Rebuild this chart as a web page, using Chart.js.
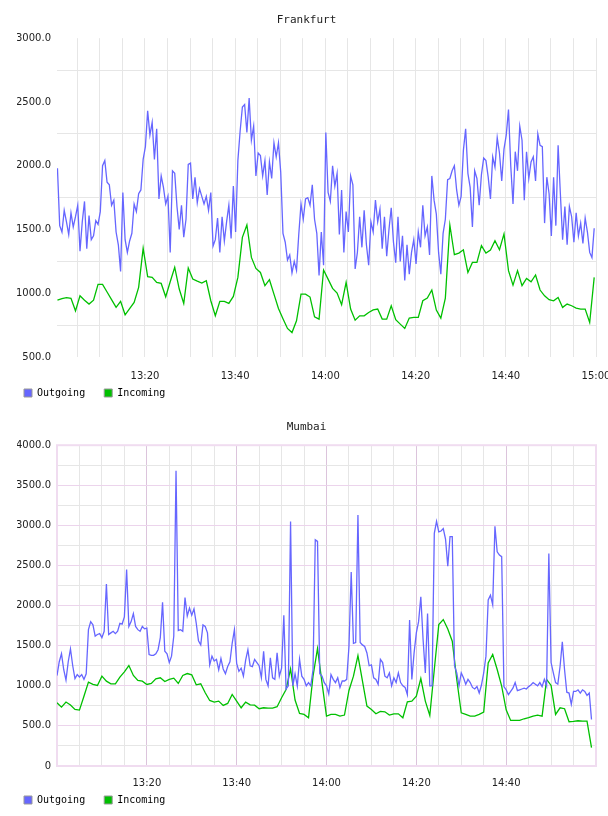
<!DOCTYPE html>
<html>
<head>
<meta charset="utf-8">
<script src="https://cdn.jsdelivr.net/npm/chart.js@4.4.1/dist/chart.umd.min.js"></script>
<style>
  html, body { margin: 0; padding: 0; background: #fff; }
  #wrap { position: relative; width: 608px; height: 816px; overflow: hidden; }
  canvas { position: absolute; left: 0; }
  #frankfurt { top: 0; }
  #mumbai { top: 404px; }
</style>
</head>
<body>
<div id="wrap">
  <canvas id="frankfurt" width="608" height="410"></canvas>
  <canvas id="mumbai" width="608" height="412"></canvas>
</div>
<script>
'use strict';

// minutes after 13:00; outgoing sampled every 30 s, incoming every minute
const OUT_STEP = 0.5;
const IN_STEP = 1;
const FRA_START = 0.6;
const MUM_START = 0;

const FRA_OUTGOING = [
  1980, 1530, 1480, 1650, 1560, 1460, 1630, 1520, 1600, 1690, 1330, 1560, 1720, 1350, 1610, 1420, 1450, 1570, 1540,
  1640, 2000, 2040, 1870, 1850, 1690, 1730, 1480, 1380, 1170,
  1790, 1420, 1320, 1410, 1470, 1700, 1640, 1780,
  1810, 2050, 2150, 2430, 2240, 2340, 2050, 2290, 1740, 1920, 1830, 1700, 1760, 1320,
  1960, 1940, 1680, 1500, 1690, 1440, 1580, 2010, 2020, 1740, 1910, 1710, 1820, 1760, 1700, 1760, 1650, 1790, 1370, 1420,
  1590, 1320, 1600, 1410, 1560, 1690, 1430, 1840, 1480, 2040,
  2270, 2460, 2480, 2260, 2530, 2200, 2310, 1920, 2100, 2080, 1920, 2040, 1770, 2030, 1900, 2180, 2070, 2180, 1950, 1470,
  1400, 1260, 1300, 1160, 1250, 1180, 1460, 1700, 1580, 1740, 1750, 1690,
  1850, 1580, 1470, 1140, 1480, 1220, 2260, 1790, 1720, 2000,
  1840, 1940, 1460, 1810, 1320, 1640, 1480, 1920, 1850, 1190,
  1320, 1600, 1360, 1650, 1380, 1220, 1560, 1480, 1730, 1560,
  1660, 1350, 1600, 1290, 1500, 1670, 1400, 1240, 1600, 1250,
  1450, 1100, 1380, 1150, 1320, 1420, 1230, 1480, 1360, 1690,
  1450, 1520, 1300, 1920, 1730, 1620, 1320, 1150, 1470, 1580,
  1890, 1900, 1960, 2000, 1810, 1690, 1760, 2120, 2290, 1940,
  1830, 1520, 1960, 1900, 1690, 1930, 2060, 2040, 1910, 1740,
  2070, 1990, 2220, 2100, 1880, 2130, 2240, 2440, 2000, 1700,
  2110, 1960, 2310, 2200, 1730, 2110, 1900, 2030, 2070, 1880,
  2250, 2160, 2150, 1550, 1910, 1780, 1450, 1910, 1530, 2160,
  1780, 1420, 1680, 1380, 1680, 1600, 1400, 1630, 1450, 1550,
  1390, 1590, 1480, 1320, 1280, 1510
];

const FRA_INCOMING = [
  946, 958, 965, 960, 862, 980, 945, 915, 946, 1069,
  1069, 1010, 950, 889, 936, 831, 880, 928, 1046, 1352,
  1130, 1124, 1085, 1077, 972, 1090, 1203, 1033, 920, 1198,
  1111, 1095, 1080, 1098, 941, 823, 936, 936, 920, 975,
  1124, 1438, 1535, 1281, 1195, 1163, 1059, 1106, 993, 880,
  800, 724, 692, 784, 993, 993, 970, 815, 797, 1182,
  1111, 1038, 1001, 910, 1085, 876, 789, 823, 823, 849,
  870, 876, 797, 797, 902, 792, 758, 724, 805, 810,
  810, 941, 962, 1025, 868, 805, 962, 1535, 1302, 1315,
  1341, 1163, 1242, 1242, 1373, 1315, 1339, 1412, 1341, 1465,
  1177, 1064, 1177, 1059, 1116, 1090, 1143, 1025, 980, 949,
  941, 967, 889, 915, 902, 884, 876, 876, 771, 1124
];

const MUM_OUTGOING = [
  1128, 1300, 1400, 1200, 1070, 1300, 1460, 1250, 1090, 1140,
  1110, 1140, 1080, 1150, 1700, 1800, 1760, 1620, 1640, 1650,
  1600, 1680, 2270, 1640, 1660, 1680, 1650, 1680, 1780, 1770,
  1860, 2450, 1740, 1800, 1900, 1740, 1700, 1680, 1740, 1710,
  1720, 1390, 1380, 1380, 1400, 1450, 1600, 2040, 1430, 1400,
  1290, 1370, 1620, 3680, 1690, 1700, 1680, 2100, 1870, 1970,
  1880, 1960, 1780, 1560, 1510, 1760, 1740, 1660, 1260, 1370,
  1310, 1330, 1200, 1340, 1210, 1150, 1240, 1300, 1530, 1700,
  1280, 1180, 1220, 1120, 1320, 1450, 1250, 1240, 1330, 1290,
  1250, 1100, 1430, 1080, 1000, 1350, 1100, 1080, 1410, 1120,
  1220, 1880, 960, 1000, 3050,
  1000, 1150, 996, 1330, 1120, 1080, 1000, 1040, 1000, 1200,
  2820, 2800, 1150, 1120, 1040, 1000, 900, 1140, 1080, 1040,
  1100, 980, 1060, 1060, 1080, 1490, 2420, 1530, 1540, 3130,
  1540, 1510, 1490, 1410, 1250, 1260, 1100, 1080, 1020, 1330,
  1290, 1120, 1100, 1160, 1000, 1100, 1040, 1160, 1040, 1000,
  980, 890, 1820, 1080, 1410, 1660, 1800, 2110, 1580, 1160,
  1900, 1000, 1000, 2900, 3050, 2920, 2930, 2960, 2830, 2490,
  2860, 2860, 1250, 1160, 1000, 1160, 1100, 1020, 1080, 1040,
  980, 960, 990, 910, 1010, 1160, 1370, 2070, 2130, 2010,
  2990, 2670, 2630, 2610, 990, 950, 890, 930, 970, 1040,
  940, 950, 960, 970, 960, 990, 1010, 1040, 1020, 1000,
  1040, 990, 1080, 1000, 2650, 1290, 1160, 1040, 1020, 1240,
  1550, 1200, 920, 910, 770, 930, 930, 950, 910, 950,
  930, 880, 910, 580
];

const MUM_INCOMING = [
  788, 734, 797, 760, 705, 697, 870, 1046, 1017, 1004,
  1120, 1058, 1025, 1025, 1108, 1174, 1253, 1129, 1066, 1058,
  1017, 1029, 1087, 1100, 1054, 1079, 1095, 1029, 1129, 1153,
  1137, 1012, 1025, 913, 817, 797, 809, 755, 780, 892,
  809, 726, 797, 763, 759, 714, 726, 722, 722, 739,
  851, 954, 1212, 822, 655, 643, 600, 1120, 1465, 1037,
  622, 643, 643, 622, 635, 942, 1120, 1377, 1060, 747,
  705, 651, 680, 676, 635, 651, 651, 602, 801, 809,
  871, 1091, 809, 631, 1203, 1763, 1826, 1709, 1556, 1079,
  664, 643, 622, 622, 643, 672, 1286, 1390, 1203, 996,
  700, 568, 568, 568, 589, 602, 622, 635, 622, 1079,
  1004, 643, 726, 714, 552, 556, 564, 560, 560, 228
];

// grid every 5 minutes, labels every 20
const FRA_X_TICKS = [5, 10, 15, 20, 25, 30, 35, 40, 45, 50, 55, 60, 65, 70, 75, 80, 85, 90, 95, 100, 105, 110, 115, 120];
const MUM_X_TICKS = [5, 10, 15, 20, 25, 30, 35, 40, 45, 50, 55, 60, 65, 70, 75, 80, 85, 90, 95, 100, 105, 110, 115];
const FRA_Y_TICKS = [500, 750, 1000, 1250, 1500, 1750, 2000, 2250, 2500, 2750, 3000];
const MUM_Y_TICKS = [0, 250, 500, 750, 1000, 1250, 1500, 1750, 2000, 2250, 2500, 2750, 3000, 3250, 3500, 3750, 4000];
const SERIES = ['Outgoing', 'Incoming'];

const BLUE = '#6666ff';
const GREEN = '#00c000';

Chart.defaults.font.family = 'DejaVu Sans';
Chart.defaults.font.size = 10;
Chart.defaults.color = '#222';

function toPoints(values, start, step) {
  return values.map((v, i) => ({ x: start + i * step, y: v }));
}

function clock(min) {
  const h = 13 + Math.floor(min / 60);
  const m = min % 60;
  return h + ':' + (m < 10 ? '0' : '') + m;
}

const plotFrame = {
  id: 'plotFrame',
  beforeDatasetsDraw(chart, args, opts) {
    if (!opts.color) return;
    const a = chart.chartArea, c = chart.ctx;
    c.save();
    c.strokeStyle = opts.color;
    c.lineWidth = 2;
    c.strokeRect(a.left, a.top, a.right - a.left, a.bottom - a.top);
    c.restore();
  }
};

function makeChart(id, cfg) {
  return new Chart(document.getElementById(id), {
    type: 'line',
    data: {
      datasets: [
        { label: SERIES[0], data: toPoints(cfg.out, cfg.start, OUT_STEP), borderColor: BLUE, backgroundColor: BLUE, borderWidth: 1.3 },
        { label: SERIES[1], data: toPoints(cfg.inc, cfg.start, IN_STEP), borderColor: GREEN, backgroundColor: GREEN, borderWidth: 1.3 }
      ]
    },
    plugins: [plotFrame],
    options: {
      responsive: false, animation: false, devicePixelRatio: 1,
      elements: { point: { radius: 0 }, line: { tension: 0 } },
      layout: { padding: { left: 17, right: 12, top: 0, bottom: cfg.padBottom } },
      plugins: {
        plotFrame: { color: cfg.frame },
        tooltip: { enabled: false },
        title: {
          display: true, text: cfg.title, color: '#222',
          font: { family: 'DejaVu Sans Mono', size: 11, weight: 'normal' },
          padding: cfg.titlePad
        },
        legend: {
          position: 'bottom', align: 'start',
          labels: {
            boxWidth: 8, boxHeight: 8, padding: 7, color: '#111',
            font: { family: 'DejaVu Sans Mono', size: 10 },
            // two trailing spaces widen the gap between the two items
            generateLabels: chart => chart.data.datasets.map((d, i) => ({
              text: d.label + '  ', fillStyle: d.borderColor, strokeStyle: '#999', lineWidth: 1, datasetIndex: i
            }))
          }
        }
      },
      scales: {
        x: {
          type: 'linear', min: cfg.xMin, max: cfg.xMax,
          // let the last label run off the edge instead of shrinking the plot
          afterFit: s => { s.height = cfg.xHeight; s.paddingLeft = 0; s.paddingRight = 0; },
          afterBuildTicks: s => { s.ticks = cfg.xTicks.map(v => ({ value: v })); },
          border: { display: false },
          grid: { drawTicks: false, color: cfg.xGrid },
          ticks: { padding: cfg.xPad, maxRotation: 0, autoSkip: false, callback: v => (v % 20 === 0 ? clock(v) : '') }
        },
        y: {
          min: cfg.yMin, max: cfg.yMax,
          afterFit: s => { s.width = 40; },
          afterBuildTicks: s => { s.ticks = cfg.yTicks.map(v => ({ value: v })); },
          border: { display: false },
          grid: { drawTicks: false, color: cfg.yGrid },
          ticks: { padding: 6, autoSkip: false, callback: v => (v % 500 === 0 ? (v === 0 ? '0' : v.toFixed(1)) : '') }
        }
      }
    }
  });
}

makeChart('frankfurt', {
  title: 'Frankfurt', out: FRA_OUTGOING, inc: FRA_INCOMING, start: FRA_START,
  xMin: 0.5, xMax: 120, xTicks: FRA_X_TICKS, yMin: 500, yMax: 3000, yTicks: FRA_Y_TICKS,
  titlePad: { top: 14, bottom: 11 }, xHeight: 24, xPad: 13, padBottom: 2, frame: null,
  xGrid: '#e6e6e6',
  yGrid: c => (c.tick && c.tick.value % 500 === 0 ? 'rgba(0,0,0,0)' : '#e6e6e6')
});

makeChart('mumbai', {
  title: 'Mumbai', out: MUM_OUTGOING, inc: MUM_INCOMING, start: MUM_START,
  xMin: 0, xMax: 120, xTicks: MUM_X_TICKS, yMin: 0, yMax: 4000, yTicks: MUM_Y_TICKS,
  titlePad: { top: 17, bottom: 11 }, xHeight: 22, xPad: 11, padBottom: 1, frame: '#f0dcf0',
  xGrid: c => (c.tick && c.tick.value % 20 === 0 ? '#dcc4dc' : '#e6e6e6'),
  yGrid: c => (c.tick && c.tick.value % 500 === 0 ? '#ecd4ec' : '#e6e6e6')
});
</script>
</body>
</html>
